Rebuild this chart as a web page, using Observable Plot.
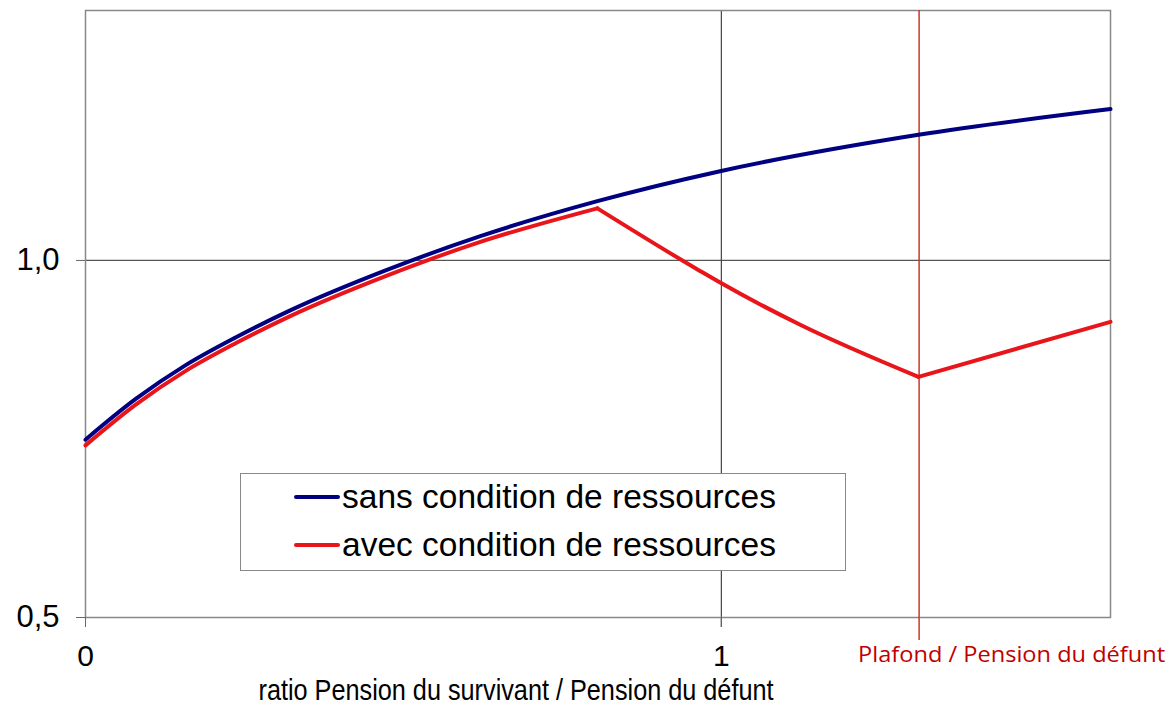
<!DOCTYPE html>
<html>
<head>
<meta charset="utf-8">
<script src="https://cdn.jsdelivr.net/npm/d3@7"></script>
<script src="https://cdn.jsdelivr.net/npm/@observablehq/plot@0.6"></script>
<style>
  html, body { margin: 0; padding: 0; background: #fff; }
  #wrap { position: relative; width: 1171px; height: 705px; }
  #legend {
    position: absolute; left: 240px; top: 473px; width: 606px; height: 98px;
    border: 1.5px solid #888; background: #fff; box-sizing: border-box;
    font-family: "Liberation Sans", Arial, sans-serif; font-size: 33.5px; color: #000;
  }
  #legend .row { position: absolute; left: 53px; display: flex; align-items: center; height: 40px; }
  #legend .sw { width: 46px; height: 4px; margin-right: 2px; border-radius: 2px; }
</style>
</head>
<body>
<div id="wrap">
  <div id="chart"></div>
  <div id="legend"></div>
</div>
<script>
// ---- data ----
const seriesNames = ["sans condition de ressources", "avec condition de ressources"];
const seriesColors = ["#000080", "#e8161b"];

// blue: sans condition de ressources
const blueX = [0, 0.079, 0.157, 0.236, 0.322, 0.472, 0.621, 0.805, 0.998, 1.310, 1.612];
const blueY = [0.749, 0.806, 0.853, 0.892, 0.930, 0.986, 1.034, 1.083, 1.125, 1.176, 1.212];

// red: avec condition de ressources (three pieces)
const redX   = [0, 0.079, 0.157, 0.236, 0.322, 0.472, 0.621, 0.805, 0.805, 0.967, 0.998, 1.124, 1.310, 1.310, 1.612];
const redY   = [0.741, 0.798, 0.845, 0.884, 0.922, 0.978, 1.026, 1.073, 1.073, 0.985, 0.969, 0.910, 0.837, 0.837, 0.914];
const redSeg = [0, 0, 0, 0, 0, 0, 0, 0, 1, 1, 1, 1, 1, 2, 2];

const xTicks = [0, 1];
const yTicks = [0.5, 1.0];
const xDomain = [0, 1.612];
const yDomain = [0.5, 1.35];
const plafond = [1.311];
const plafondLabel = "Plafond / Pension du défunt";
const xTitle = "ratio Pension du survivant / Pension du défunt";

const blue = blueX.map((x, i) => ({x, y: blueY[i]}));
const red = redX.map((x, i) => ({x, y: redY[i], s: redSeg[i]}));

const chart = Plot.plot({
  width: 1171,
  height: 705,
  marginLeft: 85,
  marginRight: 61,
  marginTop: 10,
  marginBottom: 88,
  x: {domain: xDomain},
  y: {domain: yDomain},
  style: {fontFamily: "'Liberation Sans', Arial, sans-serif", background: "#fff", color: "#000"},
  marks: [
    Plot.ruleY([1], {stroke: "#555", strokeWidth: 1.2}),
    Plot.ruleX([1], {stroke: "#444", strokeWidth: 1.2, insetBottom: -10}),
    Plot.frame({stroke: "#888", strokeWidth: 1.5}),
    Plot.axisY(yTicks, {label: null, tickSize: 9, tickPadding: 17, fontSize: 31, stroke: "#666",
      tickFormat: d => d.toFixed(1).replace(".", ",")}),
    Plot.axisX(xTicks, {label: null, tickSize: 10, tickPadding: 17, fontSize: 30, stroke: "#666",
      tickFormat: d => String(d)}),
    Plot.ruleX(plafond, {stroke: "#c8372d", strokeWidth: 1.5, insetBottom: -23}),
    Plot.line(blue, {x: "x", y: "y", stroke: seriesColors[0], strokeWidth: 4, curve: "monotone-x"}),
    Plot.line(red, {x: "x", y: "y", z: "s", stroke: seriesColors[1], strokeWidth: 4, curve: "monotone-x"}),
    Plot.text(plafond, {x: d => d, frameAnchor: "bottom", dy: 44, dx: -61, textAnchor: "start",
      text: () => plafondLabel, fill: "#c00000", fontSize: 22, fontFamily: "'Open Sans', sans-serif",
      className: "plafond-label"}),
    Plot.text([xTitle], {text: d => d, frameAnchor: "bottom", dx: -82, dy: 82, fontSize: 30,
      fill: "#000", className: "x-title"})
  ]
});
document.getElementById("chart").appendChild(chart);

// condense the texts to the reference's widths
chart.querySelectorAll(".x-title text").forEach(t => {
  t.setAttribute("textLength", 515); t.setAttribute("lengthAdjust", "spacingAndGlyphs");
});
chart.querySelectorAll(".plafond-label text").forEach(t => {
  t.setAttribute("textLength", 307); t.setAttribute("lengthAdjust", "spacingAndGlyphs");
});

// legend
const legend = document.getElementById("legend");
seriesNames.forEach((name, i) => {
  const row = document.createElement("div");
  row.className = "row";
  row.style.top = (3 + i * 48) + "px";
  const sw = document.createElement("span");
  sw.className = "sw";
  sw.style.background = seriesColors[i];
  const t = document.createElement("span");
  t.textContent = name;
  row.appendChild(sw);
  row.appendChild(t);
  legend.appendChild(row);
});
</script>
</body>
</html>
